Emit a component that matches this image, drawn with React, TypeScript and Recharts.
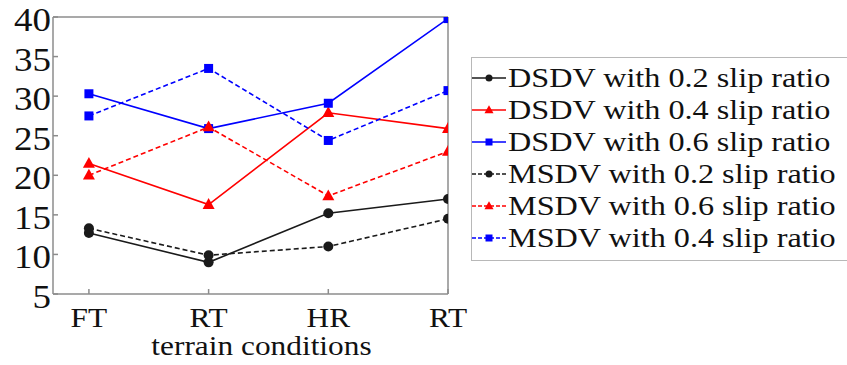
import React from "react";
import { LineChart, Line, XAxis, YAxis, Legend, Label } from "recharts";

const CATEGORIES = ["FT", "RT", "HR", "RT"];
const Y_TICKS = [5, 10, 15, 20, 25, 30, 35, 40];

const DSDV_02 = [12.7, 9.0, 15.2, 17.0];
const DSDV_04 = [21.5, 16.3, 27.9, 25.9];
const DSDV_06 = [30.3, 25.9, 29.1, 39.8];
const MSDV_02 = [13.3, 9.9, 11.0, 14.5];
const MSDV_06 = [20.0, 26.1, 17.4, 23.0];
const MSDV_04 = [27.5, 33.5, 24.4, 30.7];

const SERIES = [
  { key: "d02", name: "DSDV with 0.2 slip ratio", values: DSDV_02, color: "#1a1a1a", marker: "circle", dashed: false },
  { key: "d04", name: "DSDV with 0.4 slip ratio", values: DSDV_04, color: "#ff0000", marker: "triangle", dashed: false },
  { key: "d06", name: "DSDV with 0.6 slip ratio", values: DSDV_06, color: "#0000ff", marker: "square", dashed: false },
  { key: "m02", name: "MSDV with 0.2 slip ratio", values: MSDV_02, color: "#1a1a1a", marker: "circle", dashed: true },
  { key: "m06", name: "MSDV with 0.6 slip ratio", values: MSDV_06, color: "#ff0000", marker: "triangle", dashed: true },
  { key: "m04", name: "MSDV with 0.4 slip ratio", values: MSDV_04, color: "#0000ff", marker: "square", dashed: true },
];

const data = CATEGORIES.map((c, i) => {
  const row: any = { x: i + 1, label: c };
  SERIES.forEach((s) => (row[s.key] = s.values[i]));
  return row;
});

const FONT = "'Liberation Serif', 'Times New Roman', serif";
const AXIS = "#8c8c8c";
const STRETCH = 1.12;

function Marker({ cx, cy, shape, color, size }: any) {
  if (cx == null || cy == null) return null;
  if (shape === "circle") return <circle cx={cx} cy={cy} r={size / 2} fill={color} />;
  if (shape === "square")
    return <rect x={cx - size / 2} y={cy - size / 2} width={size} height={size} fill={color} />;
  const h = size * 0.9;
  return (
    <polygon
      points={`${cx},${cy - h * 0.6} ${cx - size / 2},${cy + h * 0.4} ${cx + size / 2},${cy + h * 0.4}`}
      fill={color}
    />
  );
}

const YTick = ({ x, y, payload }: any) => (
  <text
    transform={`translate(${x},${y + 14}) scale(${STRETCH},1)`}
    textAnchor="end"
    fontFamily={FONT}
    fontSize={33}
    fill="#111"
  >
    {payload.value}
  </text>
);

const XTick = ({ x, y, payload }: any) => (
  <text
    transform={`translate(${x},${y + 28}) scale(${STRETCH},1)`}
    textAnchor="middle"
    fontFamily={FONT}
    fontSize={28}
    fill="#111"
  >
    {CATEGORIES[payload.value - 1]}
  </text>
);

const renderLegend = () => (
  <div
    style={{
      width: 376,
      height: 204,
      boxSizing: "border-box",
      border: "1.5px solid #b8b8b8",
      borderRight: "none",
      paddingTop: 4,
      background: "#fff",
      overflow: "hidden",
    }}
  >
    {SERIES.map((s) => (
      <div key={s.key} style={{ height: 32, display: "flex", alignItems: "center" }}>
        <svg width={35} height={32} style={{ flex: "none" }}>
          <line
            x1={0}
            x2={34}
            y1={16}
            y2={16}
            stroke={s.color}
            strokeWidth={1.5}
            strokeDasharray={s.dashed ? "4 2" : undefined}
          />
          <Marker cx={17} cy={16} shape={s.marker} color={s.color} size={s.marker === "triangle" ? 9 : 7} />
        </svg>
        <span
          style={{
            fontFamily: FONT,
            fontSize: 28,
            color: "#111",
            whiteSpace: "nowrap",
            display: "inline-block",
            transform: `scaleX(1.15)`,
            transformOrigin: "left center",
            marginLeft: 1,
          }}
        >
          {s.name}
        </span>
      </div>
    ))}
  </div>
);

export default function App() {
  return (
    <div style={{ position: "absolute", left: 0, top: 0, background: "#fff" }}>
      <LineChart width={847} height={365} data={data} margin={{ top: 16, right: 398, bottom: 0, left: 0 }}>
        <XAxis
          dataKey="x"
          type="number"
          domain={[0.7, 4]}
          ticks={[1, 2, 3, 4]}
          height={71}
          stroke={AXIS}
          strokeWidth={1.5}
          tickSize={-5}
          tickMargin={10}
          tick={<XTick />}
          allowDataOverflow
        >
          <Label
            content={(props: any) => {
              const vb = props.viewBox;
              return (
                <text
                  transform={`translate(${vb.x + vb.width / 2 + 11},${vb.y + 61}) scale(${STRETCH},1)`}
                  textAnchor="middle"
                  fontFamily={FONT}
                  fontSize={28}
                  fill="#111"
                >
                  terrain conditions
                </text>
              );
            }}
          />
        </XAxis>
        <XAxis
          xAxisId="top"
          dataKey="x"
          orientation="top"
          type="number"
          domain={[0.7, 4]}
          ticks={[1, 2, 3, 4]}
          height={1}
          stroke={AXIS}
          strokeWidth={1.5}
          tickSize={-5}
          tick={false}
          allowDataOverflow
        />
        <YAxis
          domain={[5, 40]}
          ticks={Y_TICKS}
          width={53}
          stroke={AXIS}
          strokeWidth={1.5}
          tickSize={-5}
          tickMargin={7}
          tick={<YTick />}
          allowDataOverflow
          interval={0}
        />
        <YAxis
          yAxisId="right"
          orientation="right"
          domain={[5, 40]}
          ticks={Y_TICKS}
          width={1}
          stroke={AXIS}
          strokeWidth={1.5}
          tickSize={-5}
          tick={false}
          interval={0}
        />
        <Legend
          layout="vertical"
          align="center"
          verticalAlign="middle"
          content={renderLegend}
          wrapperStyle={{ left: 471, top: 57, width: 376, height: 204 }}
        />
        {SERIES.map((s) => (
          <Line
            key={s.key}
            dataKey={s.key}
            name={s.name}
            type="linear"
            stroke={s.color}
            strokeWidth={1.6}
            strokeDasharray={s.dashed ? "5 3" : undefined}
            isAnimationActive={false}
            activeDot={false}
            dot={(p: any) => (
              <Marker
                key={`${s.key}-${p.index}`}
                cx={p.cx}
                cy={p.cy}
                shape={s.marker}
                color={s.color}
                size={s.marker === "triangle" ? 12 : s.marker === "square" ? 9 : 10}
              />
            )}
          />
        ))}
      </LineChart>
    </div>
  );
}
